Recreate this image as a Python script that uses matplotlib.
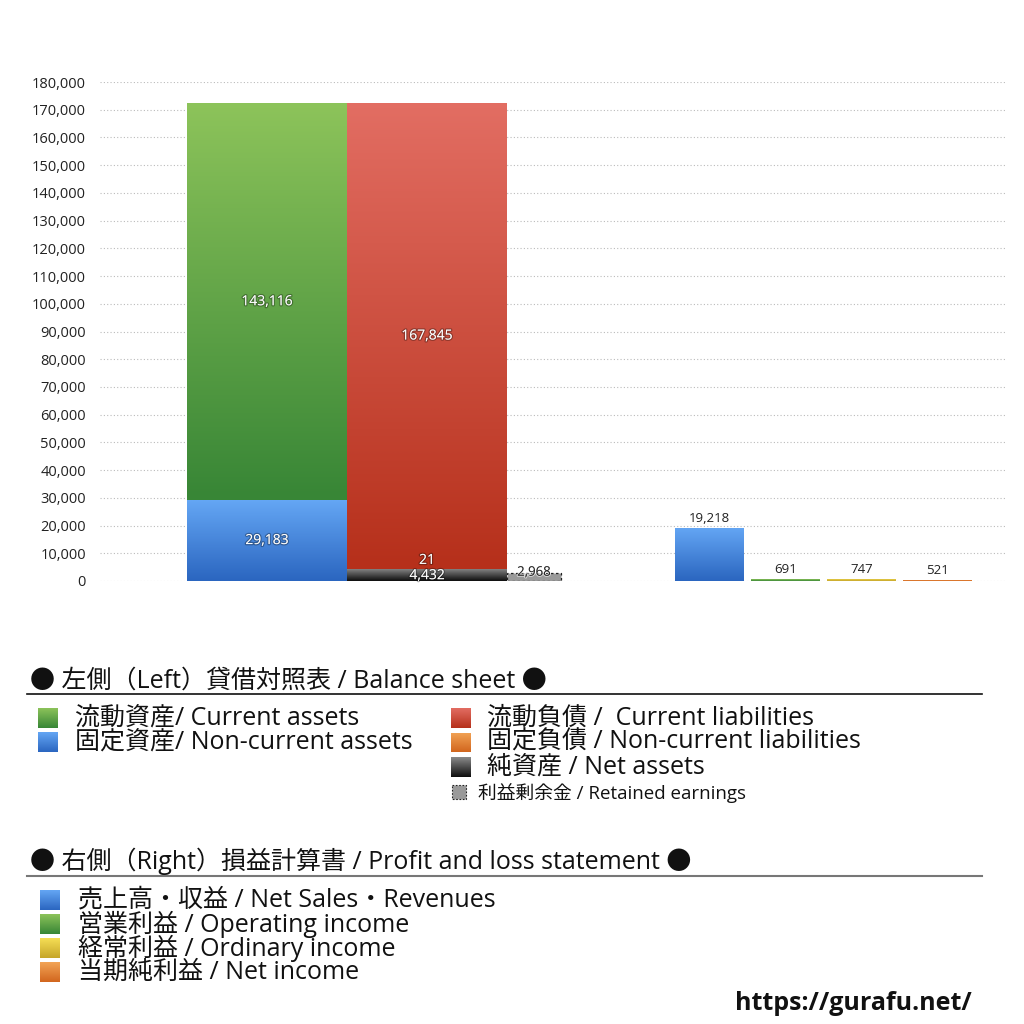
import numpy as np
import matplotlib
matplotlib.use("Agg")
import matplotlib.pyplot as plt
import matplotlib.patheffects as pe
from matplotlib.colors import LinearSegmentedColormap
from matplotlib.patches import Rectangle

plt.rcParams['font.family'] = ['Open Sans', 'Noto Sans CJK JP', 'DejaVu Sans']

# --- data ---
current_assets = 143116
noncurrent_assets = 29183
current_liabilities = 167845
noncurrent_liabilities = 21
net_assets = 4432
retained_earnings = 2968
pl_values = [19218, 691, 747, 521]
pl_labels = ["売上高・収益 / Net Sales・Revenues", "営業利益 / Operating income",
             "経常利益 / Ordinary income", "当期純利益 / Net income"]
bs_left_labels = ["流動資産/ Current assets", "固定資産/ Non-current assets"]
bs_right_labels = ["流動負債 /  Current liabilities", "固定負債 / Non-current liabilities",
                   "純資産 / Net assets"]
retained_label = "利益剰余金 / Retained earnings"
yticks = list(range(0, 180001, 10000))

# gradient colours (top, bottom)
GREEN = ("#8cc35a", "#388636")
RED = ("#e26d62", "#b6301b")
BLUE = ("#64a6f4", "#2b66c0")
ORANGE = ("#f2a456", "#d2661e")
BLACK = ("#8a8a8a", "#0e0e0e")
YELLOW = ("#f5de55", "#c6a62a")
PL_COLORS = [BLUE, GREEN, YELLOW, ORANGE]

W = H = 1024
fig = plt.figure(figsize=(10.24, 10.24), dpi=100)
fig.patch.set_facecolor("white")


def grad_fill(ax, x0, y0, w, h, cols, zorder=2, **kw):
    rect = Rectangle((x0, y0), w, h, facecolor="none", edgecolor="none", zorder=zorder, **kw)
    ax.add_patch(rect)
    cmap = LinearSegmentedColormap.from_list("g", [cols[1], cols[0]])
    img = ax.imshow(np.linspace(0, 1, 64).reshape(-1, 1), cmap=cmap, aspect="auto",
                    extent=(x0, x0 + w, y0, y0 + h), origin="lower", zorder=zorder,
                    interpolation="bilinear")
    img.set_clip_path(rect)
    return rect


# --- chart axes (x in pixel-like layout units) ---
ax = fig.add_axes([100 / W, 1 - 581 / H, 905 / W, 499 / H])
ax.set_xlim(100, 1005)
ax.set_ylim(0, 180000)
for s in ax.spines.values():
    s.set_visible(False)
ax.set_xticks([])
ax.set_yticks(yticks)
ax.set_yticklabels([f"{v:,}" for v in yticks], fontsize=10.5, color="#222222")
ax.tick_params(axis="y", length=0, pad=10)
ax.grid(axis="y", linestyle=(0, (1, 2)), color="#bbbbbb", lw=0.8)
ax.set_axisbelow(True)

white_fx = [pe.withStroke(linewidth=1.8, foreground=(0, 0, 0, 0.3))]
lbl = dict(ha="center", va="center", fontsize=10, zorder=5)

# balance sheet: assets
ax_x, lb_x, wb = 187, 347, 160
grad_fill(ax, ax_x, 0, wb, noncurrent_assets, BLUE)
grad_fill(ax, ax_x, noncurrent_assets, wb, current_assets, GREEN)
ax.text(ax_x + wb / 2, noncurrent_assets / 2, f"{noncurrent_assets:,}", color="white",
        path_effects=white_fx, **lbl)
ax.text(ax_x + wb / 2, noncurrent_assets + current_assets / 2, f"{current_assets:,}",
        color="white", path_effects=white_fx, **lbl)

# liabilities + net assets
grad_fill(ax, lb_x, 0, wb, net_assets, BLACK)
grad_fill(ax, lb_x, net_assets, wb, noncurrent_liabilities, ORANGE)
grad_fill(ax, lb_x, net_assets + noncurrent_liabilities, wb, current_liabilities, RED)
ax.text(lb_x + wb / 2, net_assets / 2 - 300, f"{net_assets:,}", color="white",
        path_effects=white_fx, **lbl)
ax.text(lb_x + wb / 2, net_assets + 3000, f"{noncurrent_liabilities:,}", color="white",
        path_effects=white_fx, **lbl)
ax.text(lb_x + wb / 2, net_assets + noncurrent_liabilities + current_liabilities / 2,
        f"{current_liabilities:,}", color="white", path_effects=white_fx, **lbl)

# retained earnings
ax.bar(534, retained_earnings, width=54, color="#9a9a9a", edgecolor="#222222",
       linestyle=(0, (2, 2)), linewidth=0.9, align="center", zorder=3)
ax.text(534, retained_earnings + 200, f"{retained_earnings:,}", color="#222222",
        path_effects=[pe.withStroke(linewidth=1.5, foreground=(1, 1, 1, 0.6))],
        **{**lbl, "fontsize": 9.5})

# profit and loss
pl_left = [675, 751, 827, 903]
for x0, v, c in zip(pl_left, pl_values, PL_COLORS):
    grad_fill(ax, x0, 0, 69, v, c)
    ax.text(x0 + 34.5, v + 1000, f"{v:,}", ha="center", va="bottom", fontsize=9.5,
            color="#222222", zorder=5)

# --- legend area ---
lg = fig.add_axes([0, 0, 1, 1])
lg.set_xlim(0, W)
lg.set_ylim(H, 0)
lg.axis("off")
lg.patch.set_alpha(0)

lg.text(30, 681, "● 左側（Left）貸借対照表 / Balance sheet ●", fontsize=18,
        va="center", ha="left", color="#111111")
lg.plot([27, 982], [694, 694], color="#111111", lw=1.2)
lg.text(30, 861, "● 右側（Right）損益計算書 / Profit and loss statement ●", fontsize=18,
        va="center", ha="left", color="#111111")
lg.plot([27, 982], [876, 876], color="#777777", lw=1.5)

for i, (lab, c) in enumerate(zip(bs_left_labels, [GREEN, BLUE])):
    yc = 718 + i * 24
    grad_fill(lg, 38, yc - 10, 20, 20, (c[1], c[0]))
    lg.text(75, yc, lab, fontsize=18, va="center", ha="left", color="#111111")

for i, (lab, c) in enumerate(zip(bs_right_labels, [RED, ORANGE, BLACK])):
    yc = 718 + i * 24.5
    grad_fill(lg, 451, yc - 10, 20, 20, (c[1], c[0]))
    lg.text(487, yc, lab, fontsize=18, va="center", ha="left", color="#111111")

lg.add_patch(Rectangle((452, 785), 14, 14, facecolor="#9a9a9a", edgecolor="#222222",
                       linestyle=(0, (1.5, 1.5)), lw=0.8))
lg.text(478, 793, retained_label, fontsize=13.5, va="center", ha="left", color="#111111")

for i, (lab, c) in enumerate(zip(pl_labels, PL_COLORS)):
    yc = 900 + i * 24
    grad_fill(lg, 40, yc - 10, 20, 20, (c[1], c[0]))
    lg.text(78, yc, lab, fontsize=18, va="center", ha="left", color="#111111")

lg.text(972, 1003, "https://gurafu.net/", fontsize=18, fontweight="bold", ha="right",
        va="center", color="#111111")

fig.savefig("out.png", dpi=100)
